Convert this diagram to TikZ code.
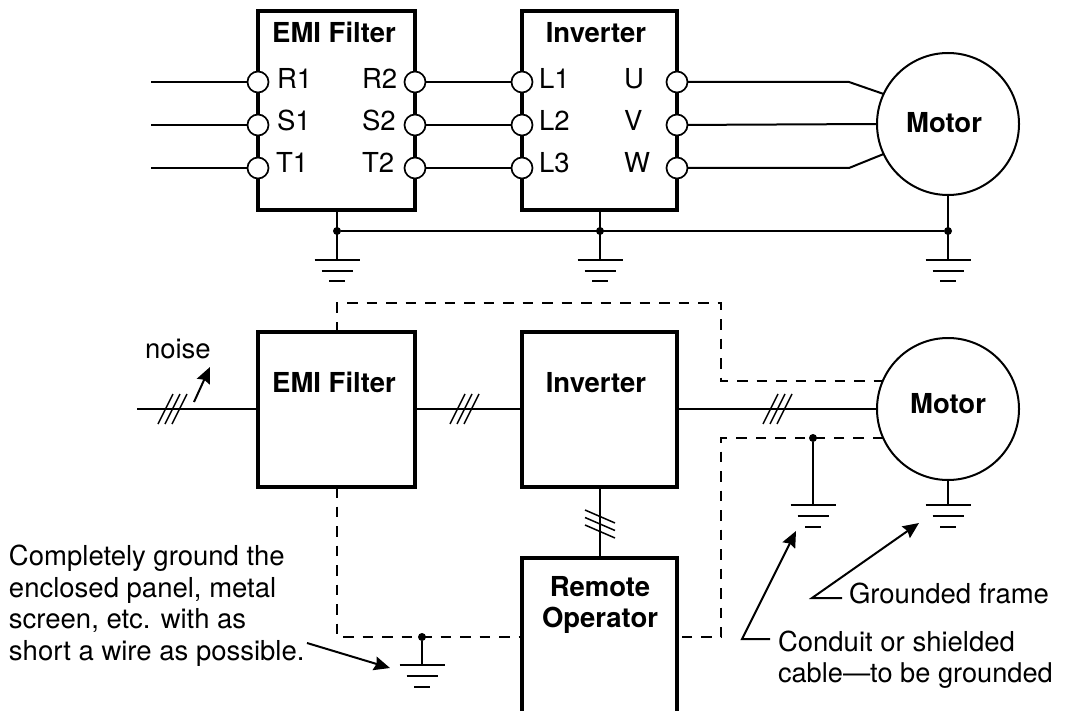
\documentclass[tikz,border=0pt]{standalone}
\usepackage{fontspec}
\setmainfont{TeX Gyre Heros}
\usetikzlibrary{arrows.meta}
\tikzset{
  x=1pt,y=-1pt,
  every node/.style={inner sep=0pt,outer sep=0pt},
  boxn/.style={draw,line width=3.2pt,minimum width=157pt,anchor=north west},
  wire/.style={line width=2pt},
  dashw/.style={line width=2pt,dash pattern=on 10.5pt off 9pt},
  term/.style={circle,draw,line width=1.7pt,fill=white,minimum size=21pt},
  dotn/.style={circle,fill=black,minimum size=8pt},
  motorn/.style={circle,draw,line width=2pt,minimum size=142pt,fill=white},
  lbl/.style={anchor=base west,font=\fontsize{27.5}{31.5}\selectfont},
  blbl/.style={anchor=base,font=\fontsize{27.5}{31.5}\selectfont\bfseries},
  call/.style={line width=2pt,-{Stealth[length=16pt,width=14pt,inset=2pt]}},
  tick/.style={line width=1.5pt},
  gndsym/.pic={
    \draw[line width=2pt] (-22.5,0)--(22.5,0) (-15.5,11)--(15.5,11) (-8,21.5)--(8,21.5);
  }
}
\begin{document}
\begin{tikzpicture}
\useasboundingbox (0,0) rectangle (1065,711);
% ---- upper diagram
\node[boxn,minimum width=157pt,minimum height=199pt] (emiA) at (258,11) {};
\node[boxn,minimum width=155pt,minimum height=199pt] (invA) at (522,11) {};
\node[blbl] (emiAt) at (334,43) {EMI Filter};
\node[blbl] (invAt) at (596,43) {Inverter};
\node[motorn] (motA) at (948,124) {};
\foreach \n/\y in {1/82,2/125,3/168}{
  \coordinate (in\n) at (151,\y);
  \node[term] (ea\n) at (258,\y) {};
  \node[term] (eb\n) at (415,\y) {};
  \node[term] (ia\n) at (522,\y) {};
  \node[term] (ib\n) at (677,\y) {};
  \draw[wire] (in\n) -- (ea\n);
  \draw[wire] (eb\n) -- (ia\n);
}
\foreach \t/\x/\y in {R1/277/89,S1/277/131,T1/276/173,R2/362/89,S2/362/131,T2/362/173,L1/539/89,L2/539/131,L3/539/173,U/624/89,V/624/131,W/624/173}{
  \node[lbl] (t\t) at (\x,\y) {\t};
}
\coordinate (kU) at (849,82);
\coordinate (kW) at (849,168);
\draw[wire] (ib1) -- (kU) -- (motA.155);
\draw[wire] (ib2) -- (motA.west);
\draw[wire] (ib3) -- (kW) -- (motA.205);
\node[blbl] (motAt) at (944,133) {Motor};
\node[dotn] (j1) at (337,231) {};
\node[dotn] (j2) at (600,231) {};
\node[dotn] (j3) at (948,231) {};
\coordinate (g1) at (337,260);
\coordinate (g2) at (600,260);
\coordinate (g3) at (948,260);
\draw[wire] (j1) -- (j3);
\draw[wire] (emiA.south -| g1) -- (g1);
\draw[wire] (invA.south -| g2) -- (g2);
\draw[wire] (motA.south) -- (g3);
\pic at (g1) {gndsym};
\pic at (g2) {gndsym};
\pic at (g3) {gndsym};
% ---- lower diagram
\coordinate (d1) at (337,303);
\coordinate (d2) at (721,303);
\coordinate (d3) at (721,381);
\coordinate (d4) at (883,381);
\coordinate (d5) at (883,438);
\coordinate (d6) at (721,438);
\coordinate (d7) at (721,637);
\coordinate (d8) at (677,637);
\coordinate (d9) at (522,637);
\coordinate (d10) at (337,637);
\coordinate (d0) at (337,332);
\coordinate (d11) at (337,487);
\draw[dashw] (d0) -- (d1) -- (d2) -- (d3) -- (d4);
\draw[dashw] (d5) -- (d6) -- (d7) -- (d8);
\draw[dashw] (d11) -- (d10) -- (d9);
\node[boxn,minimum width=157pt,minimum height=155pt] (emiB) at (258,332) {};
\node[boxn,minimum width=155pt,minimum height=155pt] (invB) at (522,332) {};
\node[blbl] (emiBt) at (334,392) {EMI Filter};
\node[blbl] (invBt) at (596,392) {Inverter};
\node[anchor=north west,minimum width=155pt,minimum height=153pt] (rem) at (522,558) {};
\draw[line width=3.2pt] (rem.south west) |- (rem.north east) -- (rem.south east);
\node[blbl] (remT1) at (600,596) {Remote};
\node[blbl] (remT2) at (600,627) {Operator};
\node[motorn] (motB) at (948,409) {};
\node[blbl] (motBt) at (948,413) {Motor};
\coordinate (inB) at (137,409);
\draw[wire] (inB) -- (emiB.west |- inB);
\draw[wire] (emiB.east |- inB) -- (invB.west |- inB);
\draw[wire] (invB.east |- inB) -- (motB.west);
\draw[wire] (invB.south) -- (rem.north);
% slash marks
\foreach \x in {158,165,172, 450,457,464, 763,770,777}{
  \draw[tick] (\x,424) -- (\x+15,394);
}
\foreach \y in {0,7.5,15}{
  \draw[tick] (585,510+\y) -- (615,523+\y);
}
% noise
\node[lbl] (noise) at (145,358) {noise};
\coordinate (nA) at (194,402);
\coordinate (nB) at (210,367);
\draw[call] (nA) -- (nB);
% grounds
\node[dotn] (j4) at (813,438) {};
\coordinate (g4) at (813,505);
\coordinate (g5) at (948,505);
\draw[wire] (j4) -- (g4);
\draw[wire] (motB.south) -- (g5);
\pic at (g4) {gndsym};
\pic at (g5) {gndsym};
\node[dotn] (j5) at (422,637) {};
\coordinate (g6) at (422,665);
\draw[wire] (j5) -- (g6);
\pic at (g6) {gndsym};
% text and call-outs
\node[anchor=north west,align=left,font=\fontsize{27.5}{31.5}\selectfont] (note) at (9,545)
  {Completely ground the\\enclosed panel, metal\\screen, etc. with as\\short a wire as possible.};
\coordinate (noteA) at (307,643);
\coordinate (noteB) at (390,668);
\draw[call] (noteA) -- (noteB);
\node[lbl] (framet) at (849,603) {Grounded frame};
\node[lbl] (condt) at (778,651) {Conduit or shielded};
\node[lbl,font=\fontsize{27.2}{31.5}\selectfont] (condt2) at (778,682) {cable—to be grounded};
\coordinate (fA) at (842,598);
\coordinate (fK) at (812,598);
\coordinate (fB) at (919,523);
\coordinate (cA) at (770,639);
\coordinate (cK) at (742,639);
\coordinate (cB) at (796,531);
\draw[call] (fA) -- (fK) -- (fB);
\draw[call] (cA) -- (cK) -- (cB);
\end{tikzpicture}
\end{document}
